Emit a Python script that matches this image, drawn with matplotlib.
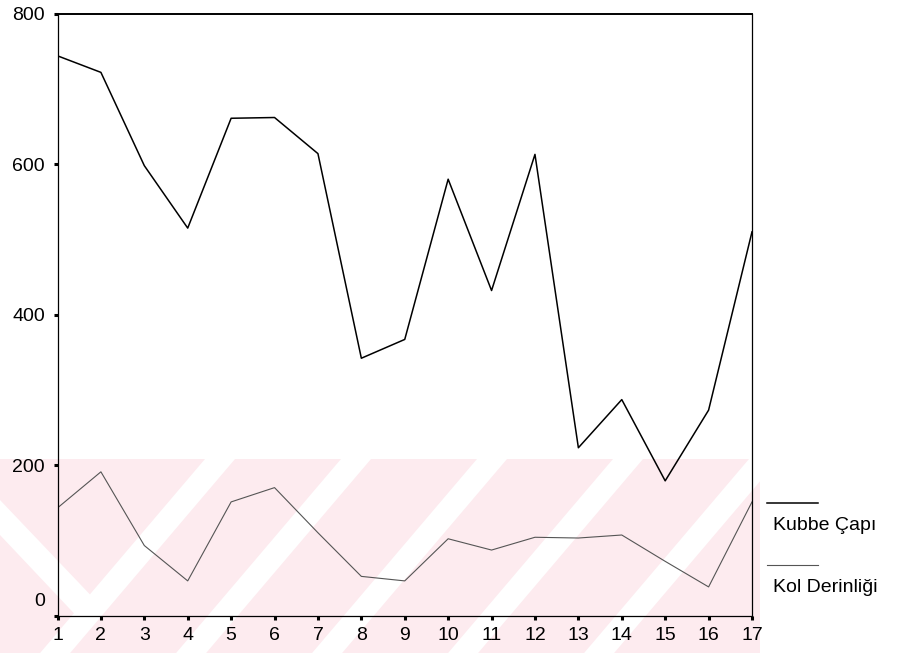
"""Kubbe çapı ve kol derinliği değerlerinin çizgi grafiği."""

import matplotlib
matplotlib.use("Agg")
import matplotlib.pyplot as plt
from matplotlib.lines import Line2D
from matplotlib.patches import Polygon, Rectangle


plt.rcParams["font.family"] = ["Liberation Sans", "DejaVu Sans"]
plt.rcParams["font.size"] = 14

# data
cases = list(range(1, 18))
kubbe_capi = [744, 722, 598, 515, 661, 662, 614, 342, 367, 580, 432, 613, 223, 287, 179, 273, 510]
kol_derinligi = [143, 191, 93, 46, 151, 170, 110, 52, 46, 102, 87, 104, 103, 107, 72, 38, 151]
y_ticks = [0, 200, 400, 600, 800]
series_names = ["Kubbe Çapı", "Kol Derinliği"]

W, H = 898, 653
fig = plt.figure(figsize=(W / 100, H / 100), dpi=100)

# scanned page watermark (pink band with white diagonal stripes)
bg = fig.add_axes([0, 0, 1, 1], zorder=-1)
bg.set_xlim(0, W)
bg.set_ylim(H, 0)
bg.axis("off")
pink = "#fdebef"
band_top, band_right = 459, 760
band = Rectangle((0, band_top), band_right, H - band_top, color=pink, lw=0)
bg.add_patch(band)
depth = H - band_top
for x0 in [205, 341, 477, 613, 749]:
    stripe = Polygon([(x0, band_top), (x0 + 30, band_top),
                      (x0 + 30 - depth * 0.85, H), (x0 - depth * 0.85, H)],
                     color="white", lw=0)
    stripe.set_clip_path(band)
    bg.add_patch(stripe)
left_stripe = Polygon([(0, 500), (0, 535), (85, 625), (100, 605)], color="white", lw=0)
left_stripe.set_clip_path(band)
bg.add_patch(left_stripe)

ax = fig.add_axes([57.5 / W, 37.5 / H, (752 - 57.5) / W, (615.5 - 13.7) / H])
ax.set_facecolor("none")

ax.plot(cases, kubbe_capi, color="black", lw=1.1)
ax.plot(cases, kol_derinligi, color="#555555", lw=0.8)

ax.set_xlim(1, 17)
ax.set_ylim(0, 800)
ax.set_xticks(cases)
ax.set_yticks(y_ticks)
ax.set_yticklabels([""] + [str(v) for v in y_ticks[1:]])
ax.tick_params(direction="out", length=3, width=2.2, color="black", labelsize=14)
ax.tick_params(axis="x", pad=5)
ax.tick_params(axis="y", pad=6)
# SPSS put the zero label a bit above the axis
ax.annotate("0", xy=(0, 0), xycoords=("axes fraction", "data"), xytext=(-9, 10),
            textcoords="offset points", ha="right", va="center", fontsize=14)
for side in ["left", "bottom", "right"]:
    ax.spines[side].set_linewidth(0.9)
ax.spines["top"].set_linewidth(1.4)

# legend: short line above each label, outside the plot on the right
legend_rows = [(502.7, 525.5, "black", 1.1), (565, 588, "#555555", 0.8)]
for name, (ly, ty, color, lw) in zip(series_names, legend_rows):
    fig.add_artist(Line2D([767 / W, 818 / W], [1 - ly / H, 1 - ly / H], color=color, lw=lw))
    fig.text(773 / W, 1 - ty / H, name, ha="left", va="center", fontsize=14)

fig.savefig("out.png", dpi=100)
